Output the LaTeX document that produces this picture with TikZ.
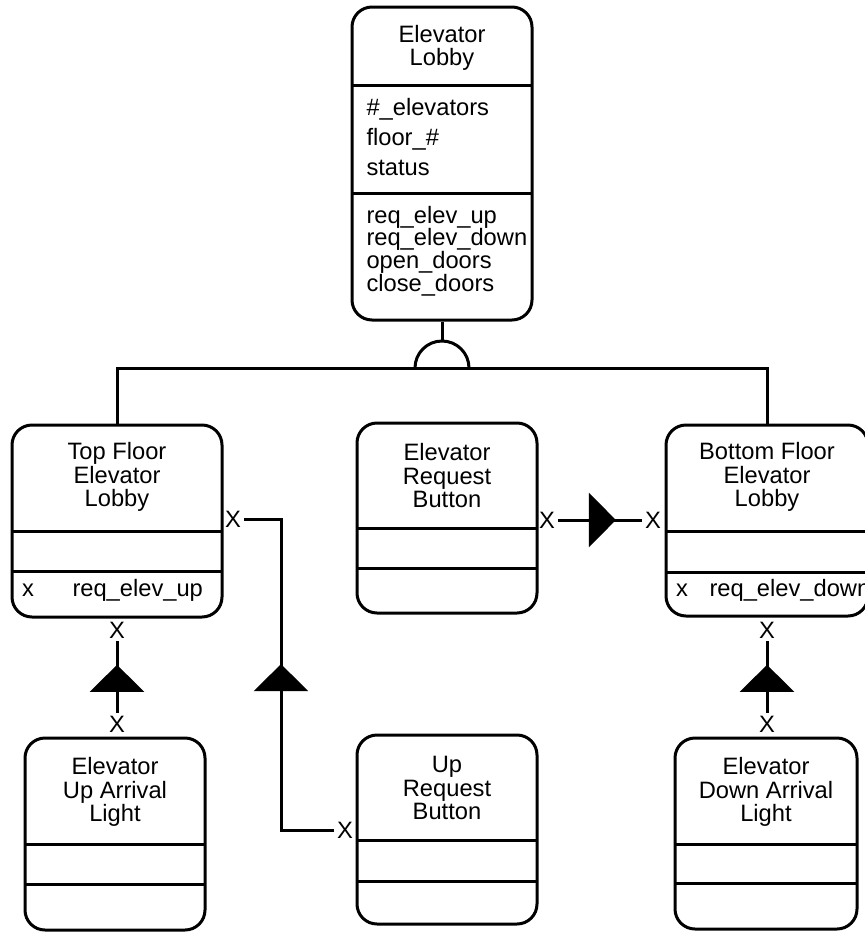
\documentclass[tikz,border=0pt]{standalone}
\usepackage{fontspec}
\setmainfont{Liberation Sans}
\usetikzlibrary{arrows.meta,decorations.markings,calc}
\newcommand\dfont{\fontsize{23.7}{23.5}\selectfont}
\begin{document}
\begin{tikzpicture}[x=1pt,y=-1pt,line width=3pt,
  cls/.style={draw,rounded corners=20pt,inner sep=0pt},
  ttl/.style={align=center,font=\dfont,inner sep=0pt},
  xl/.style={font=\dfont,inner sep=1.5pt},
  tri/.style={postaction={decorate},decoration={markings,mark=at position #1 with {\arrow{Triangle[width=54pt,length=27pt]}}}}]
\clip (0,0) rectangle (865,932);
\node[cls,minimum width=180pt,minimum height=313pt] (lobby) at (442,163.5) {};
\node[cls,minimum width=210pt,minimum height=192pt] (top) at (117,521) {};
\node[cls,minimum width=180pt,minimum height=190pt] (req) at (447,518) {};
\node[cls,minimum width=202pt,minimum height=191pt] (bot) at (767,520.5) {};
\node[cls,minimum width=180pt,minimum height=192pt] (upl) at (115,834) {};
\node[cls,minimum width=180pt,minimum height=189pt] (upb) at (447,829.5) {};
\node[cls,minimum width=182pt,minimum height=191pt] (dnl) at (766,833.5) {};
\foreach \xa/\xb/\y in {352/532/85,352/532/193,12/222/531,12/222/571,357/537/528,357/537/568,
  666/868/531,666/868/572,25/205/844,25/205/884,357/537/840,357/537/881,675/857/844,675/857/883}
  \draw (\xa,\y) -- (\xb,\y);
\node[ttl] (lobbyT) at (442,48) {Elevator\\Lobby};
\node[ttl] (topT) at (117,477) {Top Floor\\Elevator\\Lobby};
\node[ttl] (reqT) at (447,476) {Elevator\\Request\\Button};
\node[ttl] (botT) at (767,477) {Bottom Floor\\Elevator\\Lobby};
\node[ttl] (uplT) at (115,792) {Elevator\\Up Arrival\\Light};
\node[ttl] (upbT) at (447,788) {Up\\Request\\Button};
\node[ttl] (dnlT) at (766,792) {Elevator\\Down Arrival\\Light};
\node[ttl,anchor=west,align=left,font=\fontsize{23.7}{30}\selectfont] (lobbyA) at (365,137) {\#\_elevators\\floor\_\#\\status};
\node[ttl,anchor=west,align=left,font=\fontsize{23.7}{22.7}\selectfont] (lobbyM) at (365,251) {req\_elev\_up\\req\_elev\_down\\open\_doors\\close\_doors};
\node[ttl,anchor=base] (topX) at (28,596) {x};
\node[ttl,anchor=base west] (topM) at (71,596) {req\_elev\_up};
\node[ttl,anchor=base] (botX) at (682,596) {x};
\node[ttl,anchor=base west] (botM) at (708,596) {req\_elev\_down};
\node[xl] (xT1) at (117,630) {X};
\node[xl] (xL1) at (117,724) {X};
\node[xl] (xT2) at (233,519) {X};
\node[xl] (xU) at (345,830) {X};
\node[xl] (xR) at (547,520) {X};
\node[xl] (xB) at (653,520) {X};
\node[xl] (xB2) at (767,630) {X};
\node[xl] (xD) at (767,724) {X};
\coordinate (bend) at (281,519);
\coordinate (hub) at (442,368);
\draw (lobby.south) -- ($(hub)+(0,-27)$);
\draw ($(hub)+(-27,0)$) arc[start angle=180,end angle=0,radius=27pt];
\draw (top.north) |- (hub) -| (bot.north);
\draw[tri=48pt] (xL1) -- (xT1);
\draw[tri=219pt] (xU) -| (bend) -- (xT2);
\draw[tri=58pt] (xR) -- (xB);
\draw[tri=48pt] (xD) -- (xB2);
\end{tikzpicture}
\end{document}
